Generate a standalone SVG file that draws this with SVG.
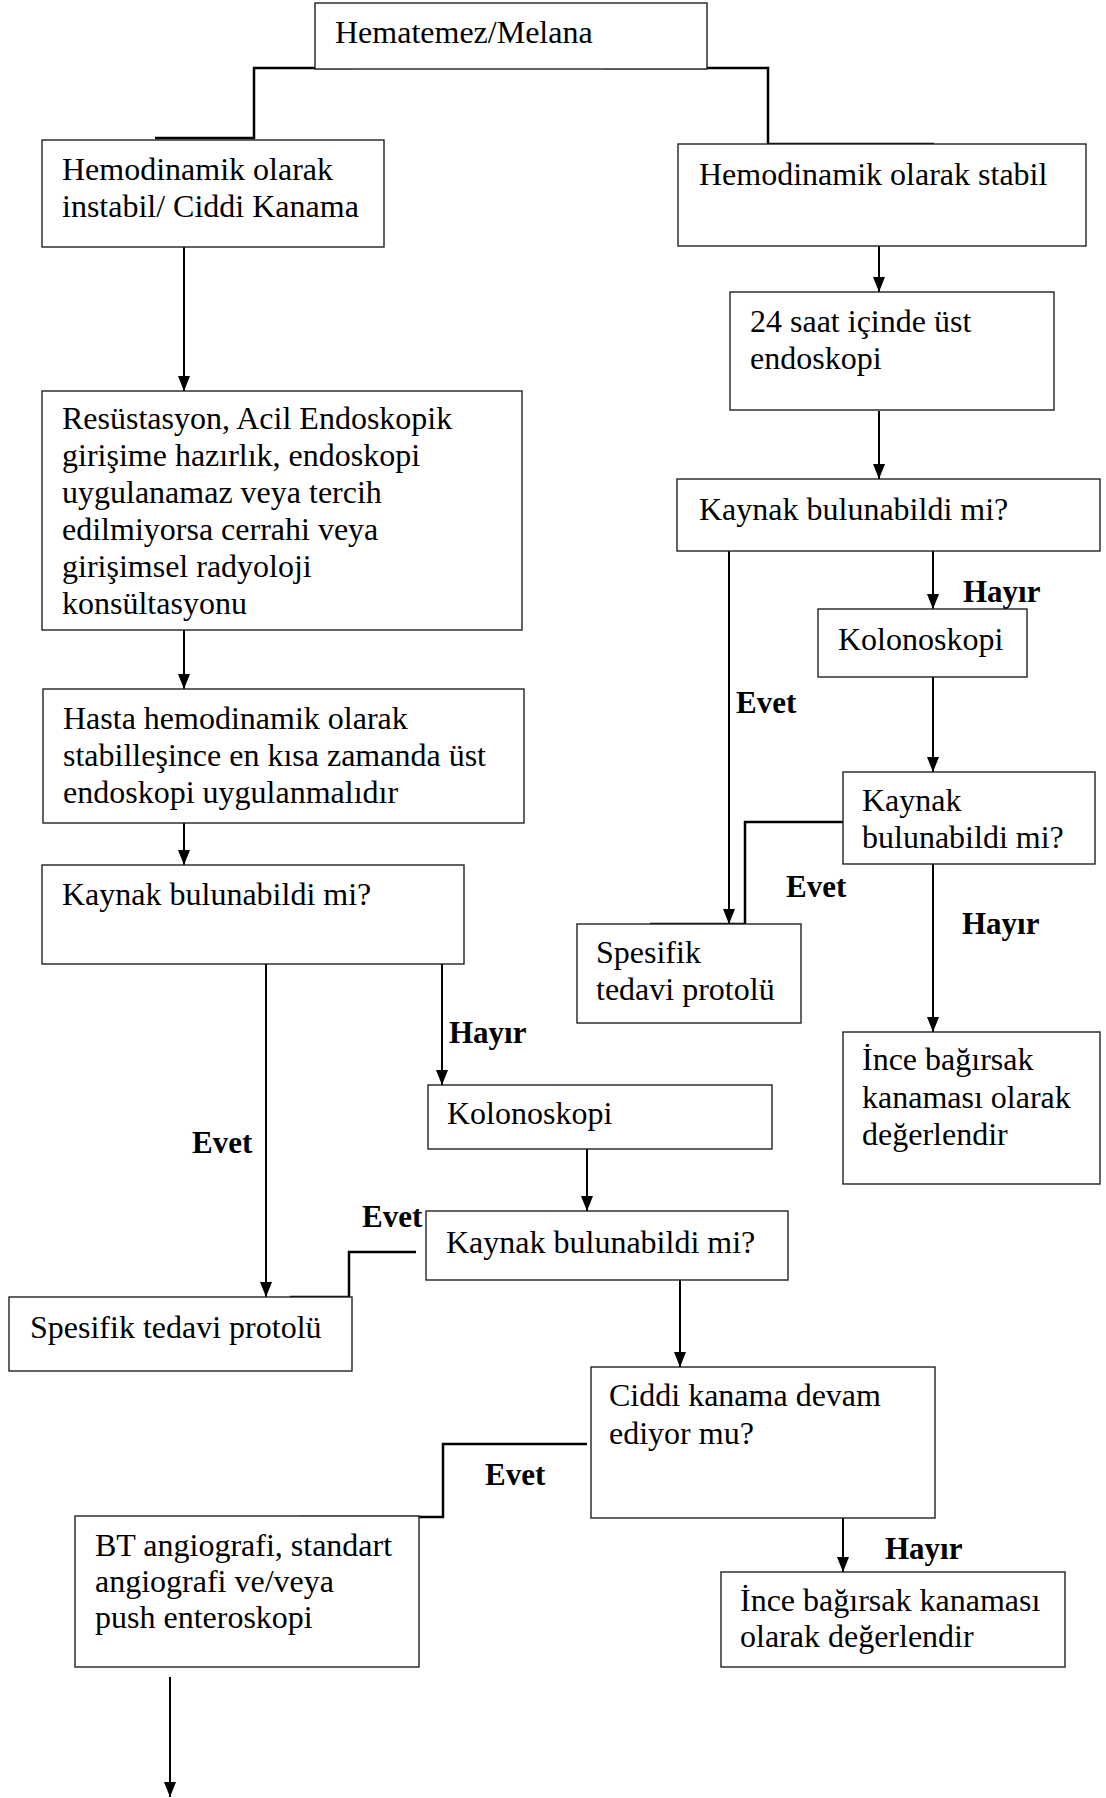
<svg xmlns="http://www.w3.org/2000/svg" width="1106" height="1798" viewBox="0 0 1106 1798">
<defs>
<style>
.box{fill:#fff;stroke:#222;stroke-width:1.4}
.t{font-family:"Liberation Serif","Times New Roman",serif;font-size:32px;fill:#000}
.lb{font-family:"Liberation Serif","Times New Roman",serif;font-size:31px;font-weight:bold;fill:#000}
.ln{fill:none;stroke:#000;stroke-width:2}
.el{fill:none;stroke:#000;stroke-width:2.5}
</style>
<marker id="ah" markerWidth="15" markerHeight="12" refX="15" refY="6" orient="auto" markerUnits="userSpaceOnUse">
<path d="M0,0 L15,6 L0,12 z" fill="#000"/>
</marker>
</defs>
<rect width="1106" height="1798" fill="#fff"/>

<g id="connectors">
<polyline class="el" points="353,68 254,68 254,138 155,138"/>
<polyline class="el" points="605,68 768,68 768,144 934,144"/>
<polyline class="el" points="843,822 745,822 745,924 650,924"/>
<polyline class="el" points="416,1252 349,1252 349,1297 290,1297"/>
<polyline class="el" points="587,1444 443,1444 443,1517 299,1517"/>
<line class="ln" x1="184" y1="247" x2="184" y2="391" marker-end="url(#ah)"/>
<line class="ln" x1="879" y1="246" x2="879" y2="292" marker-end="url(#ah)"/>
<line class="ln" x1="879" y1="411" x2="879" y2="479" marker-end="url(#ah)"/>
<line class="ln" x1="184" y1="630" x2="184" y2="689" marker-end="url(#ah)"/>
<line class="ln" x1="184" y1="823" x2="184" y2="865" marker-end="url(#ah)"/>
<line class="ln" x1="729" y1="551" x2="729" y2="924" marker-end="url(#ah)"/>
<line class="ln" x1="933" y1="548" x2="933" y2="609" marker-end="url(#ah)"/>
<line class="ln" x1="933" y1="677" x2="933" y2="772" marker-end="url(#ah)"/>
<line class="ln" x1="933" y1="864" x2="933" y2="1032" marker-end="url(#ah)"/>
<line class="ln" x1="266" y1="964" x2="266" y2="1297" marker-end="url(#ah)"/>
<line class="ln" x1="442" y1="964" x2="442" y2="1085" marker-end="url(#ah)"/>
<line class="ln" x1="587" y1="1149" x2="587" y2="1211" marker-end="url(#ah)"/>
<line class="ln" x1="680" y1="1280" x2="680" y2="1367" marker-end="url(#ah)"/>
<line class="ln" x1="843" y1="1518" x2="843" y2="1572" marker-end="url(#ah)"/>
<line class="ln" x1="170" y1="1677" x2="170" y2="1797" marker-end="url(#ah)"/>
<text class="lb" x="963" y="602">Hayır</text>
<text class="lb" x="736" y="713">Evet</text>
<text class="lb" x="786" y="897">Evet</text>
<text class="lb" x="962" y="934">Hayır</text>
<text class="lb" x="449" y="1043">Hayır</text>
<text class="lb" x="192" y="1153">Evet</text>
<text class="lb" x="362" y="1227">Evet</text>
<text class="lb" x="485" y="1485">Evet</text>
<text class="lb" x="885" y="1559">Hayır</text>
</g>

<g id="n-hematemez"><rect class="box" x="315" y="3" width="392" height="66"/><text class="t" x="335" y="43">Hematemez/Melana</text></g>
<g id="n-instabil"><rect class="box" x="42" y="140" width="342" height="107"/><text class="t" x="62" y="180">Hemodinamik olarak</text><text class="t" x="62" y="217">instabil/ Ciddi Kanama</text></g>
<g id="n-stabil"><rect class="box" x="678" y="144" width="408" height="102"/><text class="t" x="699" y="185">Hemodinamik olarak stabil</text></g>
<g id="n-24saat"><rect class="box" x="730" y="292" width="324" height="118"/><text class="t" x="750" y="332">24 saat içinde üst</text><text class="t" x="750" y="369">endoskopi</text></g>
<g id="n-resus"><rect class="box" x="42" y="391" width="480" height="239"/>
<text class="t" x="62" y="429">Resüstasyon, Acil Endoskopik</text>
<text class="t" x="62" y="466">girişime hazırlık, endoskopi</text>
<text class="t" x="62" y="503">uygulanamaz veya tercih</text>
<text class="t" x="62" y="540">edilmiyorsa cerrahi veya</text>
<text class="t" x="62" y="577">girişimsel radyoloji</text>
<text class="t" x="62" y="614">konsültasyonu</text></g>
<g id="n-kaynak1"><rect class="box" x="677" y="479" width="423" height="72"/><text class="t" x="699" y="520">Kaynak bulunabildi mi?</text></g>
<g id="n-kolon1"><rect class="box" x="818" y="609" width="209" height="68"/><text class="t" x="838" y="650">Kolonoskopi</text></g>
<g id="n-hasta"><rect class="box" x="43" y="689" width="481" height="134"/>
<text class="t" x="63" y="729">Hasta hemodinamik olarak</text>
<text class="t" x="63" y="766">stabilleşince en kısa zamanda üst</text>
<text class="t" x="63" y="803">endoskopi uygulanmalıdır</text></g>
<g id="n-kaynak2"><rect class="box" x="843" y="772" width="252" height="92"/><text class="t" x="862" y="811">Kaynak</text><text class="t" x="862" y="848">bulunabildi mi?</text></g>
<g id="n-kaynak3"><rect class="box" x="42" y="865" width="422" height="99"/><text class="t" x="62" y="905">Kaynak bulunabildi mi?</text></g>
<g id="n-spesifik1"><rect class="box" x="577" y="924" width="224" height="99"/><text class="t" x="596" y="963">Spesifik</text><text class="t" x="596" y="1000">tedavi protolü</text></g>
<g id="n-ince1"><rect class="box" x="843" y="1032" width="257" height="152"/>
<text class="t" x="862" y="1070">İnce bağırsak</text>
<text class="t" x="862" y="1108">kanaması olarak</text>
<text class="t" x="862" y="1145">değerlendir</text></g>
<g id="n-kolon2"><rect class="box" x="428" y="1085" width="344" height="64"/><text class="t" x="447" y="1124">Kolonoskopi</text></g>
<g id="n-kaynak4"><rect class="box" x="426" y="1211" width="362" height="69"/><text class="t" x="446" y="1253">Kaynak bulunabildi mi?</text></g>
<g id="n-spesifik2"><rect class="box" x="9" y="1297" width="343" height="74"/><text class="t" x="30" y="1338">Spesifik tedavi protolü</text></g>
<g id="n-ciddi"><rect class="box" x="591" y="1367" width="344" height="151"/><text class="t" x="609" y="1406">Ciddi kanama devam</text><text class="t" x="609" y="1444">ediyor mu?</text></g>
<g id="n-bt"><rect class="box" x="75" y="1516" width="344" height="151"/>
<text class="t" x="95" y="1556">BT angiografi, standart</text>
<text class="t" x="95" y="1592">angiografi ve/veya</text>
<text class="t" x="95" y="1628">push enteroskopi</text></g>
<g id="n-ince2"><rect class="box" x="721" y="1572" width="344" height="95"/><text class="t" x="740" y="1611">İnce bağırsak kanaması</text><text class="t" x="740" y="1647">olarak değerlendir</text></g>
</svg>
